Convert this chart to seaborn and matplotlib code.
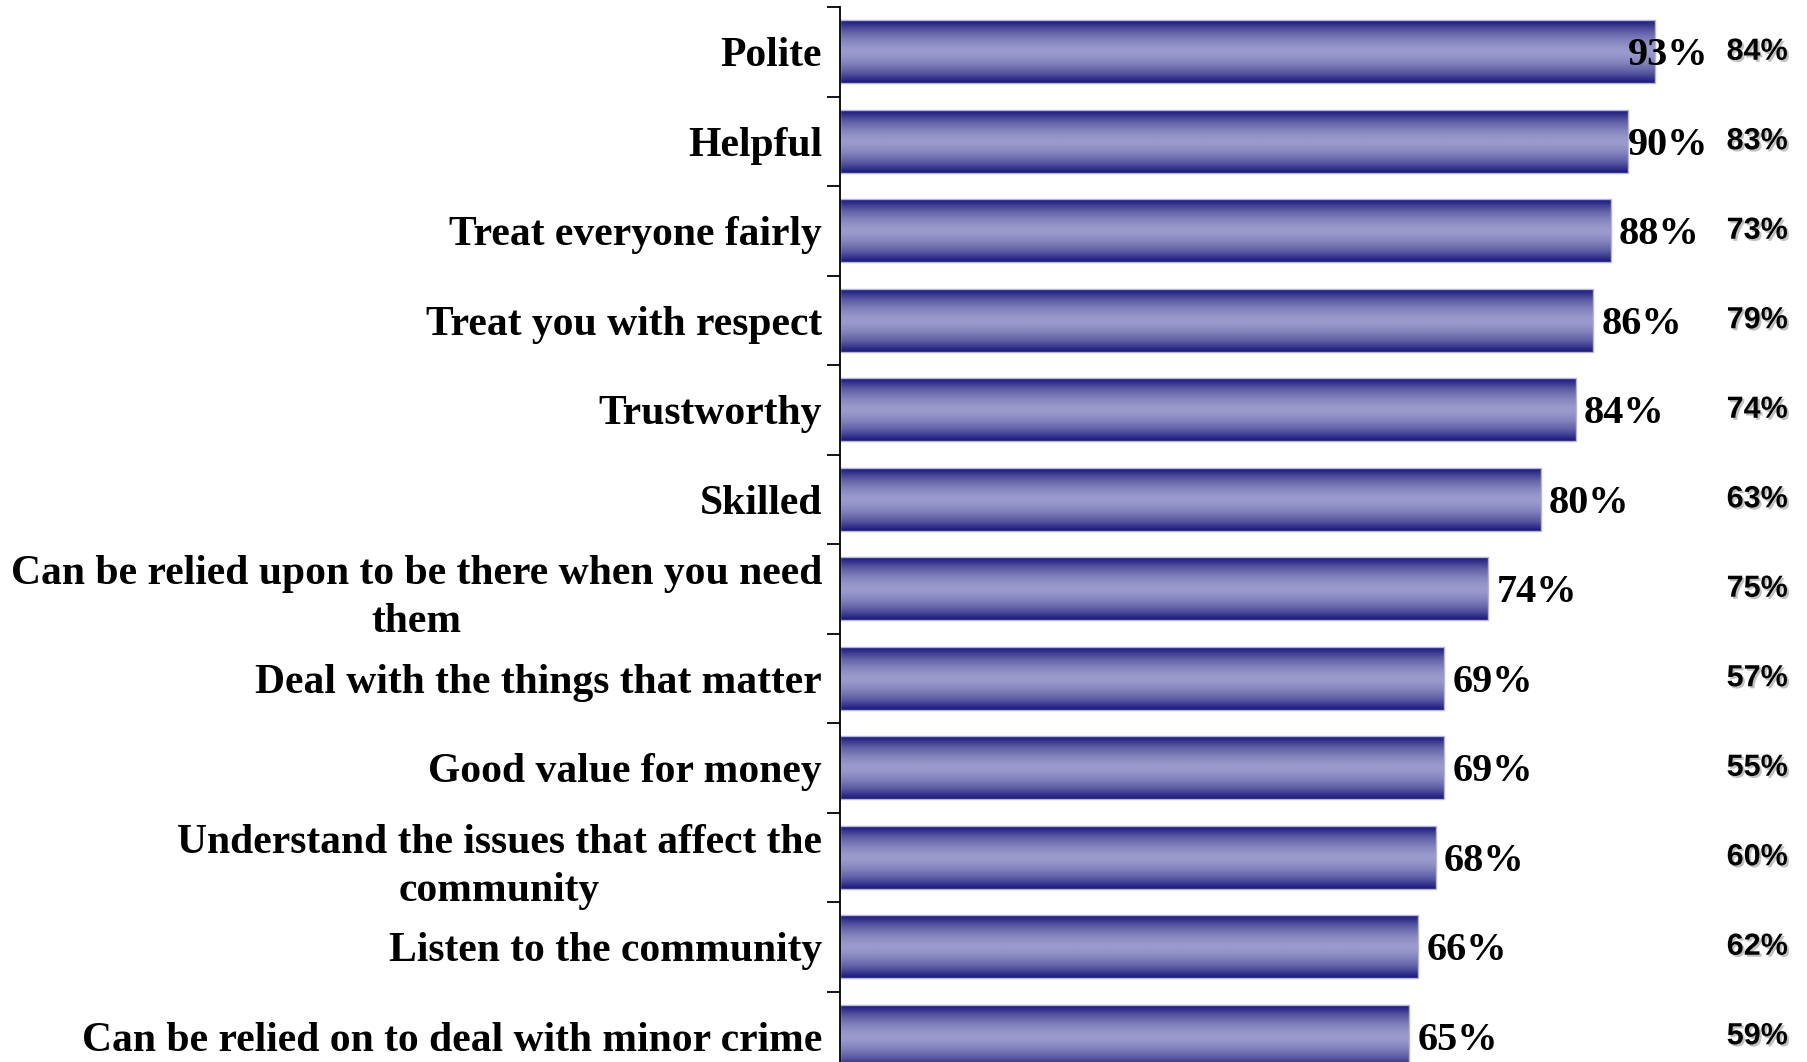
import matplotlib
matplotlib.use("Agg")
import matplotlib.pyplot as plt
import matplotlib.patheffects as pe
from matplotlib.colors import LinearSegmentedColormap
import numpy as np
import pandas as pd
import seaborn as sns

categories = ["Polite", "Helpful", "Treat everyone fairly", "Treat you with respect",
              "Trustworthy", "Skilled",
              "Can be relied upon to be there when you need\nthem",
              "Deal with the things that matter", "Good value for money",
              "Understand the issues that affect the\ncommunity",
              "Listen to the community", "Can be relied on to deal with minor crime"]
values = [93, 90, 88, 86, 84, 80, 74, 69, 69, 68, 66, 65]
previous = [84, 83, 73, 79, 74, 63, 75, 57, 55, 60, 62, 59]


def gradient_bars(ax):
    cmap = LinearSegmentedColormap.from_list('bar', ['#15157a', '#5c5ca4', '#9a9acc'])
    t = np.linspace(0, 1, 200)
    grad = (1 - np.abs(2 * t - 1) ** 1.6).reshape(-1, 1)
    for patch in ax.patches:
        x0, y0 = patch.get_x(), patch.get_y()
        w, h = patch.get_width(), patch.get_height()
        im = ax.imshow(grad, cmap=cmap, aspect='auto', extent=[x0, x0 + w, y0 + h, y0],
                       zorder=1, interpolation='bilinear')
        im.set_clip_path(patch)
        patch.set_facecolor('none')
        patch.set_edgecolor('#b4b4dc')
        patch.set_linewidth(1.0)
        patch.set_zorder(2)


def draw():
    sns.set_style('white')
    plt.rcParams['font.family'] = ['Liberation Serif', 'DejaVu Serif']
    df = pd.DataFrame({'label': categories, 'value': values})

    fig = plt.figure(figsize=(18.08, 10.62), dpi=100)
    ax = fig.add_axes([840 / 1808, 0, 1 - 840 / 1808, 1 - 7 / 1062])
    sns.barplot(data=df, x='value', y='label', orient='h', width=0.7,
                color='#9999cc', ax=ax)
    gradient_bars(ax)

    for s in ['top', 'right', 'bottom']:
        ax.spines[s].set_visible(False)
    ax.spines['left'].set_color('black')
    ax.spines['left'].set_linewidth(1.3)
    ax.set_xticks([])
    ax.set_xlabel('')
    ax.set_ylabel('')

    ax.set_yticks(range(len(categories)))
    ax.set_yticklabels(categories, fontsize=30, fontweight='bold', multialignment='center',
                       linespacing=1.35, color='black', va='center_baseline')
    ax.set_yticks(np.arange(len(categories) + 1) - 0.5, minor=True)
    ax.tick_params(axis='y', which='major', length=0, pad=13)
    ax.tick_params(axis='y', which='minor', length=9.5, width=1.3, color='black', left=True)

    # limits after the ticks, otherwise set_yticks widens them
    ax.set_xlim(0, 110.5)
    ax.set_ylim(-0.5 + (1062 - 7) / 89.5, -0.5)

    for i, v in enumerate(values):
        ax.annotate(f"{v}%", xy=(min(v, 89), i), xytext=(8, -4), textcoords='offset pixels',
                    ha='left', va='center', fontsize=29, fontweight='bold', color='black')

    for i, p in enumerate(previous):
        ax.text(104.7, i, f"{p}%", ha='center', va='center', fontsize=22, fontweight='bold',
                family=['Liberation Sans', 'DejaVu Sans'], color='black',
                path_effects=[pe.withSimplePatchShadow(offset=(1.5, -1.5), shadow_rgbFace='#999999',
                                                       alpha=0.6)])

    fig.savefig('out.png', dpi=100)


draw()
